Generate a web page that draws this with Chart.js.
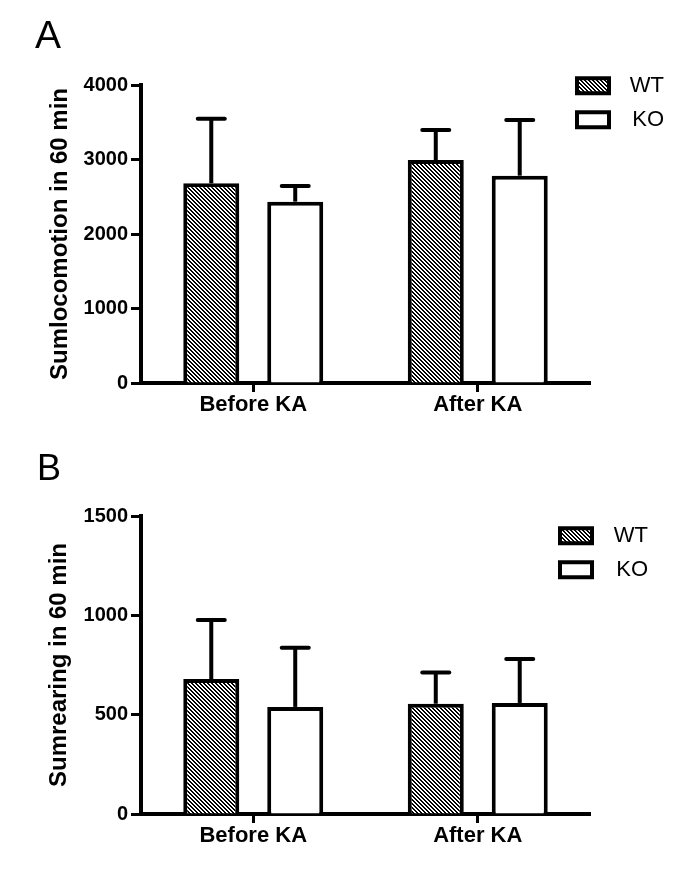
<!DOCTYPE html>
<html>
<head>
<meta charset="utf-8">
<script src="https://cdn.jsdelivr.net/npm/chart.js@4.4.0/dist/chart.umd.min.js"></script>
<style>
  body { margin: 0; background: #fff; }
  canvas { position: absolute; left: 0; }
  #chart-a { top: 0; }
  #chart-b { top: 440px; }
</style>
</head>
<body>
<canvas id="chart-a" width="685" height="440"></canvas>
<canvas id="chart-b" width="685" height="442"></canvas>
<script>
// data
const groups = ["Before KA", "After KA"];
const seriesNames = ["WT", "KO"];

const locoWT = [2680, 2993];
const locoWTErr = [868, 403];
const locoKO = [2434, 2783];
const locoKOErr = [210, 747];
const locoTicks = [0, 1000, 2000, 3000, 4000];

const rearWT = [679, 555];
const rearWTErr = [298, 157];
const rearKO = [539, 559];
const rearKOErr = [298, 221];
const rearTicks = [0, 500, 1000, 1500];

Chart.defaults.font.family = '"Liberation Sans", Arial, sans-serif';
Chart.defaults.color = "#000";

// crisp "\\\\" stripes, 4px period
function makeHatch() {
  let c = document.createElement("canvas");
  c.width = 4;
  c.height = 4;
  let x = c.getContext("2d");
  x.fillStyle = "#fff";
  x.fillRect(0, 0, 4, 4);
  x.fillStyle = "#000";
  for (let i = 0; i < 4; i++) {
    x.fillRect(i % 4, i, 1, 1);
    x.fillRect((i + 1) % 4, i, 1, 1);
  }
  return x.createPattern(c, "repeat");
}
let hatch = makeHatch();

// upper SEM whisker on each bar
let errorBars = {
  id: "errorBars",
  afterDatasetsDraw(chart) {
    let ctx = chart.ctx;
    let yScale = chart.scales.y;
    ctx.save();
    ctx.strokeStyle = "#000";
    ctx.lineWidth = 4;
    chart.data.datasets.forEach((ds, i) => {
      chart.getDatasetMeta(i).data.forEach((bar, j) => {
        let top = yScale.getPixelForValue(ds.data[j] + ds.errors[j]);
        ctx.lineCap = "butt";
        ctx.beginPath();
        ctx.moveTo(bar.x, bar.y);
        ctx.lineTo(bar.x, top);
        ctx.stroke();
        ctx.lineCap = "round";
        ctx.beginPath();
        ctx.moveTo(bar.x - 13.5, top);
        ctx.lineTo(bar.x + 13.5, top);
        ctx.stroke();
      });
    });
    ctx.restore();
  },
};

// put the legend up in the top right corner
let legendSpot = {
  id: "legendSpot",
  afterLayout(chart, args, opts) {
    let lg = chart.legend;
    lg.left = opts.left;
    lg.right = opts.right;
    lg.top = opts.top;
    lg.bottom = opts.top + 200;
  },
};

function buildChart(canvasId, setup) {
  return new Chart(canvasId, {
    type: "bar",
    data: {
      labels: groups,
      datasets: [
        {
          label: seriesNames[0],
          data: setup.wt,
          errors: setup.wtErr,
          backgroundColor: hatch,
          borderColor: "#000",
          borderWidth: 4,
          categoryPercentage: 0.748,
          barPercentage: 0.667,
        },
        {
          label: seriesNames[1],
          data: setup.ko,
          errors: setup.koErr,
          backgroundColor: "#fff",
          borderColor: "#000",
          borderWidth: 4,
          categoryPercentage: 0.748,
          barPercentage: 0.667,
        },
      ],
    },
    options: {
      responsive: false,
      animation: false,
      layout: {
        padding: { left: setup.padLeft, right: 95, top: 0, bottom: 0 },
      },
      plugins: {
        title: {
          display: true,
          text: setup.letter,
          align: "start",
          color: "#000",
          font: { size: setup.letterSize, weight: "normal" },
          padding: { top: setup.letterTop, bottom: setup.letterBottom },
        },
        legend: {
          position: "chartArea",
          align: "start",
          labels: {
            boxWidth: 32,
            boxHeight: 15,
            padding: 12,
            textAlign: "right",
            color: "#000",
            font: { size: 22 },
          },
        },
        legendSpot: setup.legend,
        tooltip: { enabled: false },
      },
      scales: {
        x: {
          grid: {
            offset: false,
            drawOnChartArea: false,
            tickLength: 9,
            tickWidth: 3,
            tickColor: "#000",
          },
          border: { color: "#000", width: 4 },
          ticks: { padding: 0, color: "#000", font: { size: 22, weight: "bold" } },
          afterFit: (s) => {
            s.height = setup.xHeight;
          },
        },
        y: {
          min: setup.ticks[0],
          max: setup.ticks[setup.ticks.length - 1],
          ticks: {
            stepSize: setup.ticks[1] - setup.ticks[0],
            padding: 3,
            color: "#000",
            font: { size: 20, weight: "bold" },
            callback: (v) => String(v),
          },
          grid: {
            drawOnChartArea: false,
            tickLength: 10,
            tickWidth: 3,
            tickColor: "#000",
          },
          border: { color: "#000", width: 4 },
          title: {
            display: true,
            text: setup.yTitle,
            color: "#000",
            font: { size: 24, weight: "bold" },
            padding: { top: setup.yTitlePad, bottom: 0 },
          },
          afterFit: (s) => {
            s.width = setup.yWidth;
          },
        },
      },
    },
    plugins: [errorBars, legendSpot],
  });
}

let chartA = buildChart("chart-a", {
  letter: "A",
  letterSize: 39,
  letterTop: 14,
  letterBottom: 24.2,
  padLeft: 35,
  yWidth: 106,
  xHeight: 57,
  yTitle: "Sumlocomotion in 60 min",
  yTitlePad: 10.6,
  ticks: locoTicks,
  wt: locoWT,
  wtErr: locoWTErr,
  ko: locoKO,
  koErr: locoKOErr,
  legend: { left: 565, top: 62.8, right: 664 },
});

let chartB = buildChart("chart-b", {
  letter: "B",
  letterSize: 36,
  letterTop: 8.4,
  letterBottom: 24.4,
  padLeft: 37,
  yWidth: 104,
  xHeight: 68,
  yTitle: "Sumrearing in 60 min",
  yTitlePad: 8.3,
  ticks: rearTicks,
  wt: rearWT,
  wtErr: rearWTErr,
  ko: rearKO,
  koErr: rearKOErr,
  legend: { left: 548, top: 72.8, right: 648 },
});
</script>
</body>
</html>
